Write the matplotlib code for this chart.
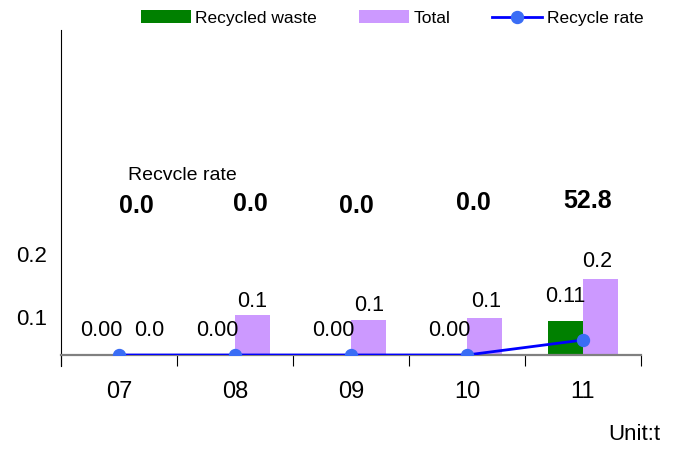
import matplotlib
matplotlib.use("Agg")
import matplotlib.pyplot as plt
import numpy as np

plt.rcParams["font.family"] = ["Liberation Sans", "DejaVu Sans"]

# data
years = ["07", "08", "09", "10", "11"]
recycled = [0.0, 0.0, 0.0, 0.0, 0.11]
total = [0.0, 0.129, 0.113, 0.12, 0.246]
rate = [0.0, 0.0, 0.0, 0.0, 52.8]

GREEN = "#008000"
PURPLE = "#cc99ff"
LINE = "#0000ff"
MARKER = "#3a6df5"

fig = plt.figure(figsize=(6.83, 4.5), dpi=100)
ax = fig.add_axes([61 / 683, 1 - 355 / 450, 580 / 683, 325 / 450])

x = np.arange(len(years))
w = 0.3
ax.bar(x - w / 2, recycled, w, color=GREEN, label="Recycled waste")
ax.bar(x + w / 2, total, w, color=PURPLE, label="Total")

# value labels (small nudges)
total_dx = [13, 0, 1, 2, -3]
total_dy = [24, 14, 15, 16, 17]
for xi, v in zip(x, recycled):
    ax.annotate(f"{v:.2f}", (xi - w / 2, v), textcoords="offset pixels",
                xytext=(0, 24), ha="center", va="center", fontsize=15.5)
for xi, v, dx, dy in zip(x, total, total_dx, total_dy):
    ax.annotate(f"{v:.1f}", (xi + w / 2, v), textcoords="offset pixels",
                xytext=(dx, dy), ha="center", va="center", fontsize=15.5)

ax.set_xlim(-0.5, len(years) - 0.5)
ax.set_ylim(0, 1.05)

# category boundaries as ticks, labels at centers
ax.set_xticks(np.arange(len(years) + 1) - 0.5)
ax.set_xticklabels([])
ax.set_xticks(x, minor=True)
ax.set_xticklabels(years, minor=True, fontsize=17)
ax.tick_params(axis="x", which="major", direction="out", length=8, width=0.8)
ax.tick_params(axis="x", which="minor", length=0, pad=19)

ax.set_yticks([0.123, 0.326])
ax.set_yticklabels(["0.1", "0.2"], fontsize=16)
ax.tick_params(axis="y", length=0, pad=10)

for s in ["top", "right"]:
    ax.spines[s].set_visible(False)
ax.spines["bottom"].set_color("#808080")
ax.spines["bottom"].set_linewidth(1.6)
ax.spines["left"].set_linewidth(0.8)
ax.plot([0, 0], [-11 / 325, 0], transform=ax.transAxes, color="black",
        lw=0.8, clip_on=False)

# recycle rate on a hidden secondary axis
ax2 = ax.twinx()
ax2.set_ylim(0, 1144)
ax2.axis("off")
ax2.plot(x, rate, color=LINE, lw=2, marker="o", markersize=8.6,
         markerfacecolor=MARKER, markeredgecolor=MARKER, label="Recycle rate")

rate_dx = [17, 15, 5, 6, 5]
rate_py = [206, 204, 206, 203, 201]
for xi, v, dx, py in zip(x, rate, rate_dx, rate_py):
    ax.annotate(f"{v:.1f}", (xi, (355 - py) / 325),
                xycoords=("data", "axes fraction"), textcoords="offset pixels",
                xytext=(dx, 0), ha="center", va="center",
                fontsize=18, fontweight="bold")
ax.text(121.5 / 580, (355 - 175) / 325, "Recvcle rate", transform=ax.transAxes,
        ha="center", va="center", fontsize=14)

fig.text(634 / 683, 1 - 435 / 450, "Unit:t", ha="center", va="center", fontsize=16)

h1, l1 = ax.get_legend_handles_labels()
h2, l2 = ax2.get_legend_handles_labels()
fig.legend(h1 + h2, l1 + l2, loc="center", bbox_to_anchor=(392 / 683, 1 - 18 / 450),
           ncol=3, frameon=False, fontsize=12.5, handlelength=2.9,
           handleheight=0.7, columnspacing=2.4, handletextpad=0.25,
           borderpad=0, borderaxespad=0)

fig.savefig("out.png", dpi=100)
